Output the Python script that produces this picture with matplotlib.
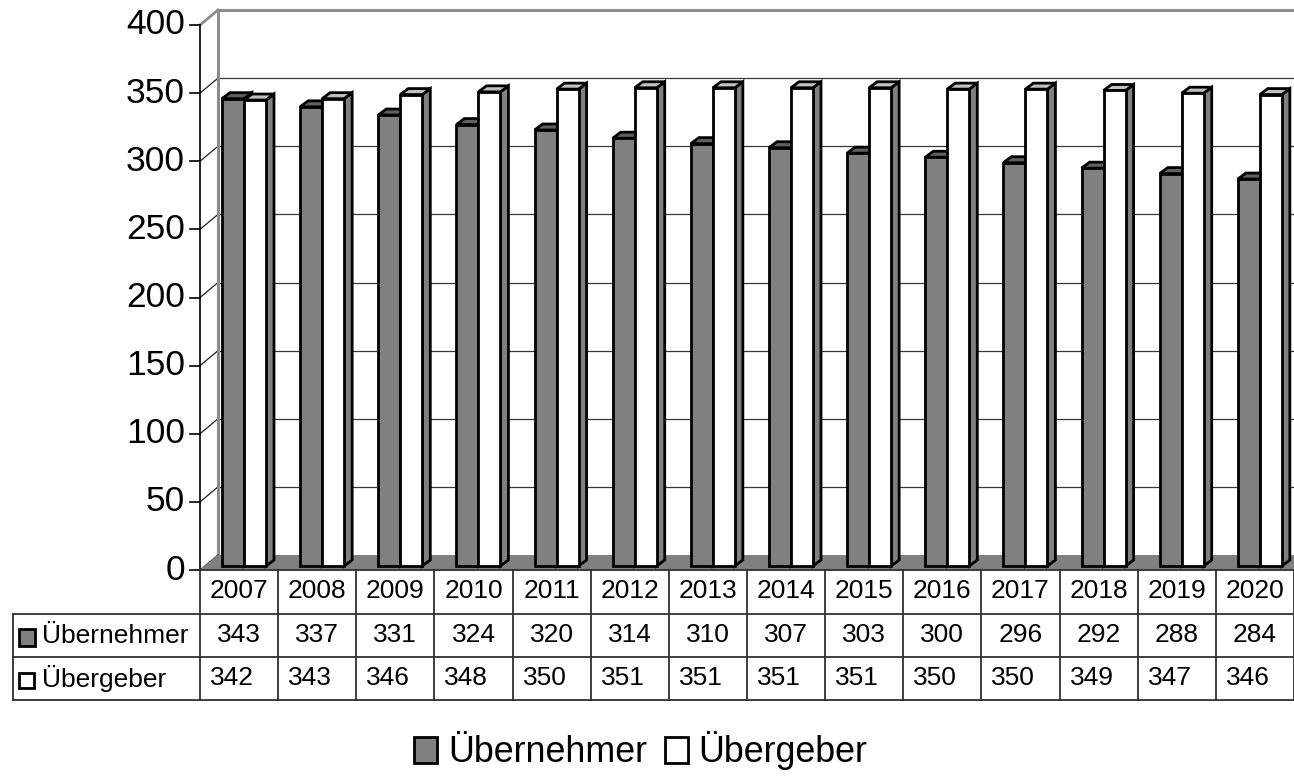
import matplotlib.pyplot as plt
from matplotlib.patches import Polygon, Rectangle, Patch
from matplotlib.transforms import blended_transform_factory

years = ['2007', '2008', '2009', '2010', '2011', '2012', '2013',
         '2014', '2015', '2016', '2017', '2018', '2019', '2020']
uebernehmer = [343, 337, 331, 324, 320, 314, 310, 307, 303, 300, 296, 292, 288, 284]
uebergeber = [342, 343, 346, 348, 350, 351, 351, 351, 351, 350, 350, 349, 347, 346]
series_names = ['Übernehmer', 'Übergeber']
yticks = [0, 50, 100, 150, 200, 250, 300, 350, 400]

plt.rcParams['font.family'] = ['Liberation Sans', 'DejaVu Sans']

W, H = 1294, 776
fig = plt.figure(figsize=(W / 100, H / 100), dpi=100)
# front plane of the pseudo 3d chart
x0_px, y0_px, top_px = 200, 570, 25
ax = fig.add_axes([x0_px / W, 1 - y0_px / H, (W - x0_px) / W, (y0_px - top_px) / H])
n = len(years)
ax.set_xlim(0, n)
ax.set_ylim(0, 400)
ax.axis('off')

cat_px = (W - x0_px) / n
unit_px = (y0_px - top_px) / 400.0


def px2x(px):
    return (px - x0_px) / cat_px


def px2fy(py):
    return 1 - py / H


# depth of walls and bars (in data units)
dx, dy = 18 / cat_px, 15 / unit_px
ox, oy = 4 / cat_px, 4 / unit_px
bx, by = 8 / cat_px, 6 / unit_px
bw = 22 / cat_px
gap = 22 / cat_px

wall_grey = '#808080'

# floor
ax.add_patch(Polygon([(0, 0), (n, 0), (n + dx, dy), (dx, dy)], closed=True,
                     facecolor=wall_grey, edgecolor='none', zorder=1, clip_on=False))

# back wall gridlines + left wall diagonals
for v in yticks[1:-1]:
    ax.plot([dx, n + dx], [v + dy, v + dy], color='#383838', lw=0.9, zorder=0.5, clip_on=False)
    ax.plot([0, dx], [v, v + dy], color='#202020', lw=0.9, zorder=0.5, clip_on=False)
ax.plot([dx, n + dx], [400 + dy, 400 + dy], color='#8c8c8c', lw=2.2, zorder=0.6, clip_on=False)
ax.plot([dx, dx], [dy, 400 + dy], color='#8c8c8c', lw=2.2, zorder=0.6, clip_on=False)
ax.plot([0, dx], [400, 400 + dy], color='#8c8c8c', lw=2.0, zorder=0.6, clip_on=False)
ax.plot([0, dx], [0, dy], color='#505050', lw=1.0, zorder=0.6, clip_on=False)

# front axis with ticks
ax.plot([0, 0], [0, 400], color='black', lw=1.2, zorder=3, clip_on=False)
tick_len = 10 / cat_px
for v in yticks:
    ax.plot([-tick_len, 0], [v, v], color='black', lw=1.2, zorder=3, clip_on=False)
    ax.text(px2x(185), v, str(v), ha='right', va='center', fontsize=25.5, clip_on=False)


def bar3d(x, v, fc, top_fc, side_fc):
    kw = dict(edgecolor='black', lw=2, joinstyle='miter', zorder=2, clip_on=False)
    b = oy
    ax.add_patch(Polygon([(x + bw, b), (x + bw + bx, b + by), (x + bw + bx, v + b + by), (x + bw, v + b)],
                         closed=True, facecolor=side_fc, **kw))
    ax.add_patch(Polygon([(x, v + b), (x + bw, v + b), (x + bw + bx, v + b + by), (x + bx, v + b + by)],
                         closed=True, facecolor=top_fc, **kw))
    ax.add_patch(Rectangle((x, b), bw, v, facecolor=fc, **kw))


for i in range(n):
    xl = i + gap
    bar3d(xl, uebernehmer[i], '#808080', '#606060', '#606060')
    bar3d(xl + bw, uebergeber[i], 'white', '#c0c0c0', '#808080')

# data table
tr = blended_transform_factory(ax.transData, fig.transFigure)
rows_px = [570, 614, 657, 700]
left = px2x(13)
line_kw = dict(color='#303030', lw=1.3, transform=tr, clip_on=False, zorder=3)
ax.plot([-tick_len, n], [px2fy(570)] * 2, **line_kw)
for r in rows_px[1:]:
    ax.plot([left, n], [px2fy(r)] * 2, **line_kw)
for i in range(n + 1):
    ax.plot([i, i], [px2fy(570), px2fy(700)], **line_kw)
ax.plot([left, left], [px2fy(614), px2fy(700)], **line_kw)

for i in range(n):
    ax.text(i + 0.5, px2fy(591), years[i], ha='center', va='center', fontsize=19,
            transform=tr, clip_on=False)
    ax.text(i + 0.5, px2fy(635), str(uebernehmer[i]), ha='center', va='center',
            fontsize=19, transform=tr, clip_on=False)
    ax.text(i + 10 / cat_px, px2fy(678), str(uebergeber[i]), ha='left', va='center',
            fontsize=19, transform=tr, clip_on=False)

# row labels with key squares
fig.patches.append(Rectangle((19 / W, px2fy(646)), 16 / W, 17 / H, facecolor='#808080',
                             edgecolor='black', lw=2, transform=fig.transFigure))
fig.patches.append(Rectangle((19 / W, px2fy(688)), 15 / W, 15 / H, facecolor='white',
                             edgecolor='black', lw=2, transform=fig.transFigure))
fig.text(42 / W, px2fy(636), series_names[0], ha='left', va='center', fontsize=19)
fig.text(42 / W, px2fy(679), series_names[1], ha='left', va='center', fontsize=19)

# legend
handles = [Patch(facecolor='#808080', edgecolor='black', lw=2),
           Patch(facecolor='white', edgecolor='black', lw=2)]
fig.legend(handles, series_names, loc='center', bbox_to_anchor=(641 / W, px2fy(751)),
           ncol=2, frameon=False, fontsize=25.8, handlelength=0.64, handleheight=0.7,
           handletextpad=0.3, columnspacing=0.5, borderpad=0)

fig.savefig('out.png', dpi=100)
